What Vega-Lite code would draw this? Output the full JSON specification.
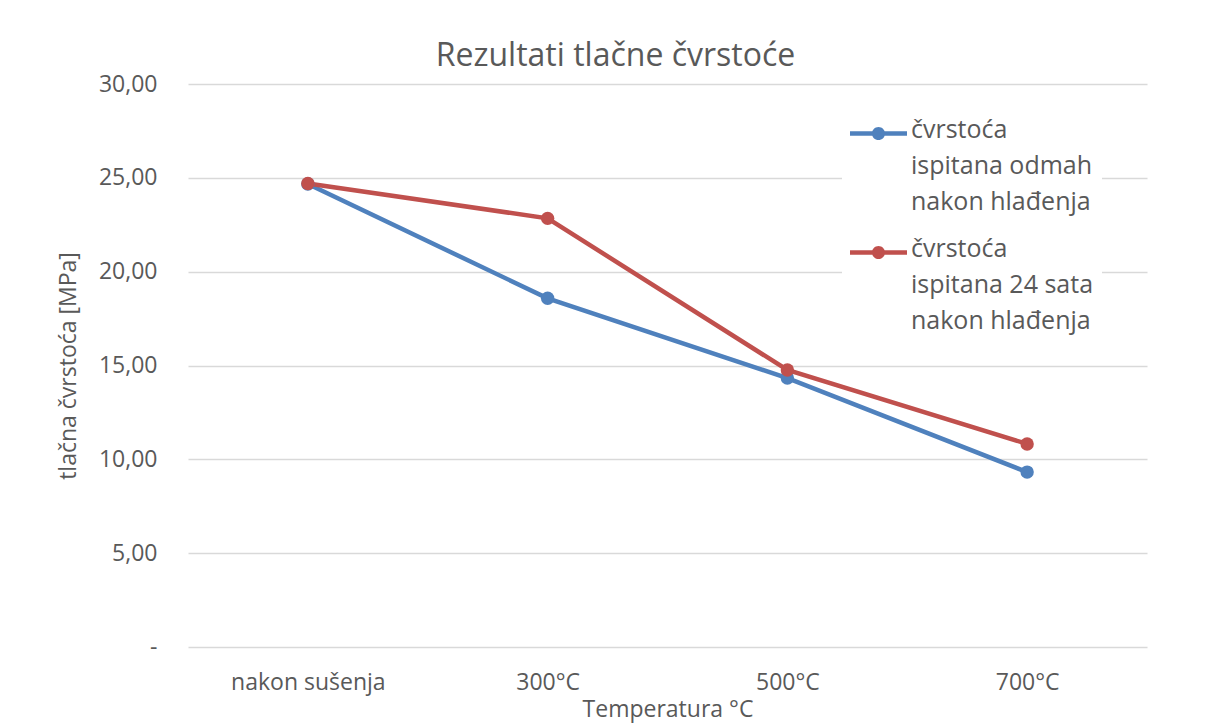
{
  "$schema": "https://vega.github.io/schema/vega-lite/v6.json",
  "autosize": "none",
  "width": 959,
  "height": 563,
  "padding": {"left": 188, "top": 84, "right": 70, "bottom": 77},
  "background": "white",
  "title": {
    "text": "Rezultati tlačne čvrstoće",
    "font": "Open Sans",
    "fontSize": 32,
    "fontWeight": "normal",
    "color": "#595959",
    "anchor": "middle",
    "dx": -52,
    "offset": 0
  },
  "config": {
    "view": {"stroke": null},
    "font": "Open Sans",
    "axis": {
      "labelFont": "Open Sans",
      "titleFont": "Open Sans",
      "labelFontSize": 23,
      "titleFontSize": 23,
      "labelColor": "#595959",
      "titleColor": "#595959",
      "titleFontWeight": "normal",
      "gridColor": "#d9d9d9",
      "gridWidth": 1.3,
      "ticks": false,
      "domain": false
    }
  },
  "data": {
    "values": [
      {"temp": "nakon sušenja", "serija": "čvrstoća ispitana odmah nakon hlađenja", "mpa": 24.67},
      {"temp": "300°C", "serija": "čvrstoća ispitana odmah nakon hlađenja", "mpa": 18.58},
      {"temp": "500°C", "serija": "čvrstoća ispitana odmah nakon hlađenja", "mpa": 14.33},
      {"temp": "700°C", "serija": "čvrstoća ispitana odmah nakon hlađenja", "mpa": 9.32},
      {"temp": "nakon sušenja", "serija": "čvrstoća ispitana 24 sata nakon hlađenja", "mpa": 24.70},
      {"temp": "300°C", "serija": "čvrstoća ispitana 24 sata nakon hlađenja", "mpa": 22.84},
      {"temp": "500°C", "serija": "čvrstoća ispitana 24 sata nakon hlađenja", "mpa": 14.76},
      {"temp": "700°C", "serija": "čvrstoća ispitana 24 sata nakon hlađenja", "mpa": 10.82}
    ]
  },
  "encoding": {
    "x": {
      "field": "temp",
      "type": "ordinal",
      "sort": ["nakon sušenja", "300°C", "500°C", "700°C"],
      "scale": {"type": "point", "padding": 0.5},
      "axis": {
        "title": "Temperatura °C",
        "labelAngle": 0,
        "labelPadding": 24,
        "titlePadding": 4,
        "grid": false
      }
    },
    "y": {
      "field": "mpa",
      "type": "quantitative",
      "scale": {"domain": [0, 30], "nice": false},
      "axis": {
        "title": "tlačna čvrstoća [MPa]",
        "values": [0, 5, 10, 15, 20, 25, 30],
        "labelExpr": "datum.value == 0 ? '-\u00a0\u00a0\u00a0' : replace(format(datum.value, '.2f'), '.', ',')",
        "labelPadding": 31,
        "titlePadding": 18,
        "grid": true
      }
    },
    "color": {
      "field": "serija",
      "type": "nominal",
      "sort": ["čvrstoća ispitana odmah nakon hlađenja", "čvrstoća ispitana 24 sata nakon hlađenja"],
      "scale": {"range": ["#4f81bd", "#c0504d"]},
      "legend": {
        "title": null,
        "orient": "none",
        "legendX": 654,
        "legendY": 13,
        "fillColor": "white",
        "padding": 8,
        "symbolType": "M-1,-0.075H1V0.075H-1Z M0.23,0 A0.23,0.23 0 1,1 -0.23,0 A0.23,0.23 0 1,1 0.23,0Z",
        "symbolSize": 3249,
        "symbolStrokeWidth": 0,
        "symbolOpacity": 1,
        "labelFont": "Open Sans",
        "labelFontSize": 25,
        "labelColor": "#595959",
        "labelLimit": 0,
        "labelOffset": 4,
        "labelBaseline": "top",
        "rowPadding": 9,
        "labelExpr": "datum.label == 'čvrstoća ispitana odmah nakon hlađenja' ? ['čvrstoća', 'ispitana odmah', 'nakon hlađenja'] : ['čvrstoća', 'ispitana 24 sata', 'nakon hlađenja']",
        "encode": {
          "symbols": {"update": {"fill": {"scale": "color", "field": "value"}, "strokeWidth": {"value": 0}}},
          "labels": {"update": {"lineHeight": {"value": 36}, "dy": {"value": -16}}}
        }
      }
    }
  },
  "layer": [
    {
      "mark": {"type": "line", "strokeWidth": 4.5}
    },
    {
      "mark": {"type": "point", "filled": true, "size": 180, "opacity": 1}
    }
  ]
}
